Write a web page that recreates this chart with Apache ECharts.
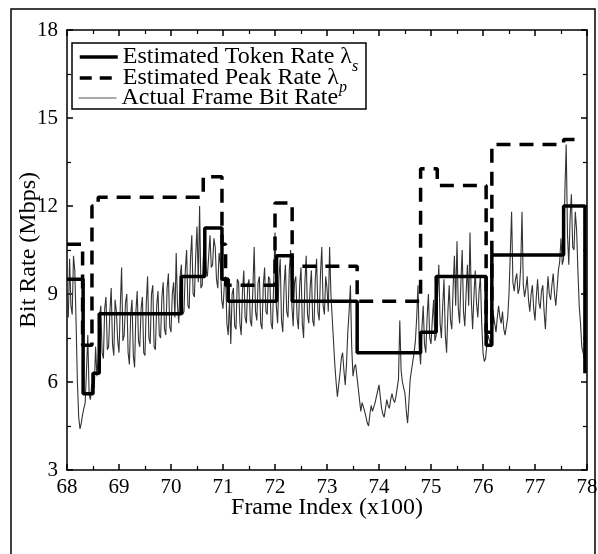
<!DOCTYPE html>
<html>
<head>
<meta charset="utf-8">
<script src="https://cdn.jsdelivr.net/npm/echarts@6/dist/echarts.min.js"></script>
<style>
  html, body { margin: 0; padding: 0; background: #fff; }
  #chart { width: 598px; height: 554px; }
</style>
</head>
<body>
<div id="chart"></div>
<script>
// frame index in units of 100 frames, one sample every 2.5 frames
var frameStart = 68
var frameStep = 0.025

// actual frame bit rate (Mbps); one row per half unit
var actualRate = [
  9.0, 8.2, 10.2, 8.6, 8.3, 10.3, 9.8, 8.0, 6.0, 4.8, 4.4, 4.6, 4.9, 5.1, 5.3, 6.4, 7.6, 5.6, 5.4, 5.9,
  6.0, 5.8, 7.2, 6.2, 6.8, 8.2, 8.6, 7.0, 6.8, 8.5, 8.9, 7.1, 7.2, 8.4, 9.2, 7.3, 6.9, 8.8, 8.4, 7.4,
  7.0, 8.6, 9.9, 7.4, 7.6, 8.7, 9.0, 7.0, 6.6, 8.3, 8.8, 6.9, 6.5, 8.4, 9.1, 7.4, 7.2, 8.5, 8.9, 7.0,
  6.9, 8.7, 9.6, 7.5, 7.3, 9.0, 9.3, 7.2, 7.1, 8.6, 9.1, 7.6, 7.5, 8.9, 9.4, 7.8, 7.6, 9.2, 9.7, 7.9,
  7.7, 9.0, 9.4, 8.2, 10.4, 8.6, 8.0, 9.6, 10.0, 8.3, 8.4, 9.8, 10.5, 8.6, 8.5, 10.2, 11.0, 9.0, 8.9, 10.3,
  11.3, 9.4, 12.0, 9.2, 9.3, 10.4, 10.8, 9.8, 9.6, 10.3, 11.0, 9.9, 10.0, 10.9, 10.6, 9.5, 9.2, 10.4, 10.0, 8.8,
  8.5, 9.3, 9.6, 8.0, 7.6, 8.8, 7.3, 9.0, 9.2, 7.9, 7.8, 9.5, 9.4, 8.0, 7.6, 9.1, 9.8, 8.2, 8.0, 9.3,
  9.5, 8.1, 7.9, 9.2, 10.6, 8.4, 8.1, 9.4, 9.6, 8.0, 7.8, 9.3, 9.9, 8.4, 8.3, 9.6, 9.5, 8.0, 7.8, 9.4,
  11.1, 8.6, 8.0, 9.5, 10.2, 8.1, 7.7, 9.3, 10.0, 8.4, 8.2, 9.8, 10.5, 8.6, 7.9, 9.4, 9.6, 8.2, 7.8, 9.3,
  9.9, 8.0, 7.5, 9.4, 10.3, 8.3, 8.0, 9.2, 9.8, 8.1, 7.9, 9.5, 10.2, 8.4, 8.1, 9.7, 10.6, 8.6, 8.3, 9.6,
  9.2, 8.4, 10.6, 9.0, 8.2, 7.4, 6.6, 6.0, 5.5, 5.9, 6.3, 6.8, 7.0, 6.4, 5.9, 6.6, 7.7, 8.4, 9.3, 7.2,
  6.2, 6.5, 6.6, 6.2, 5.8, 5.4, 5.0, 5.3, 5.3, 5.0, 4.8, 4.6, 4.5, 4.9, 5.2, 5.0, 5.0, 5.3, 5.5, 5.7,
  5.9, 5.5, 5.1, 4.9, 4.8, 5.1, 5.4, 5.2, 5.1, 5.4, 5.6, 5.4, 5.3, 5.5, 5.8, 6.1, 8.1, 6.4, 6.0, 5.8,
  5.6, 5.0, 4.6, 5.3, 6.1, 6.4, 6.7, 7.0, 7.4, 8.2, 9.3, 7.2, 6.6, 7.8, 8.6, 7.3, 7.0, 8.2, 9.0, 7.5,
  7.3, 8.1, 8.8, 7.4, 7.6, 8.9, 10.0, 8.0, 7.5, 8.6, 9.5, 7.6, 7.0, 8.4, 9.3, 8.1, 7.8, 9.2, 10.3, 8.6,
  10.8, 8.5, 8.0, 9.4, 10.5, 8.4, 7.9, 9.0, 10.0, 8.6, 11.1, 8.8, 7.8, 8.9, 9.8, 8.7, 8.2, 9.1, 9.6, 8.0,
  7.0, 6.7, 6.8, 7.3, 7.6, 7.4, 7.2, 7.8, 8.3, 8.0, 7.7, 8.2, 8.6, 8.2, 8.0, 8.4, 7.8, 7.6, 7.6, 8.2,
  9.0, 10.4, 11.8, 9.4, 9.1, 9.5, 9.7, 9.0, 9.2, 9.9, 11.8, 9.3, 8.9, 9.2, 9.6, 8.8, 8.4, 9.0, 9.3, 8.5,
  8.1, 8.9, 9.5, 8.7, 8.5, 9.1, 9.3, 8.4, 7.8, 8.8, 9.6, 9.0, 8.8, 9.3, 9.7, 9.0, 8.6, 9.2, 9.8, 10.1,
  10.9, 10.0, 10.2, 12.5, 14.1, 11.0, 10.0, 11.6, 12.4, 10.6, 10.5, 11.8, 11.2, 9.8, 8.6, 8.0, 7.2, 7.0, 6.8, 6.5,
  6.3
]

// step changes [frame index, rate]; each rate holds until the next change
var tokenSteps = [
  [68.0, 9.5], [68.31, 5.6], [68.5, 6.3], [68.62, 8.33], [70.2, 9.6],
  [70.65, 11.25], [70.98, 9.5], [71.1, 8.75], [72.03, 10.3], [72.33, 8.75],
  [73.58, 7.0], [74.8, 7.7], [75.1, 9.6], [76.06, 7.25], [76.17, 10.33],
  [77.55, 12.0], [77.96, 6.3]
]
var peakSteps = [
  [68.0, 10.7], [68.3, 7.25], [68.48, 12.0], [68.6, 12.3], [70.62, 13.0],
  [70.98, 10.7], [71.05, 9.3], [72.0, 12.1], [72.33, 9.95], [73.58, 8.75],
  [74.8, 13.27], [75.12, 12.7], [76.06, 7.7], [76.17, 14.1], [77.55, 14.27],
  [77.93, 14.27]
]

var actualData = actualRate.map(function (v, i) {
  return [frameStart + i * frameStep, v]
})

var serif = 'Liberation Serif'
var chart = echarts.init(document.getElementById('chart'))

var axisBase = {
  axisLine: { show: true, lineStyle: { color: '#000', width: 1.5 } },
  axisTick: { show: true, inside: true, length: 6, lineStyle: { color: '#000', width: 1.5 } },
  minorTick: { show: true, splitNumber: 2, length: 4, lineStyle: { color: '#000', width: 1.2 } },
  splitLine: { show: false }
}

// one legend per row so the rows sit as tight as in the picture
function legendRow(top, item) {
  return {
    left: 78,
    top: top,
    padding: 0,
    itemWidth: 38,
    itemHeight: 14,
    itemStyle: { opacity: 0 },
    textStyle: {
      fontFamily: serif,
      fontSize: 24,
      color: '#000',
      rich: {
        sub: { fontFamily: serif, fontSize: 16, fontStyle: 'italic', color: '#000', verticalAlign: 'top', lineHeight: 8, padding: [14, 0, 0, 0] }
      }
    },
    formatter: function (name) {
      if (name === 'Estimated Token Rate') return name + ' λ{sub|s}'
      if (name === 'Estimated Peak Rate') return name + ' λ{sub|p}'
      return name
    },
    data: [item]
  }
}

chart.setOption({
  backgroundColor: '#fff',
  animation: false,
  grid: { left: 67, right: 11, top: 30, bottom: 84, outerBoundsMode: 'none' },
  graphic: [{
    type: 'rect',
    shape: { x: 11, y: 9, width: 584, height: 560 },
    style: { fill: 'none', stroke: '#000', lineWidth: 1.5 },
    silent: true
  }, {
    type: 'rect',
    shape: { x: 72, y: 43, width: 294, height: 66 },
    style: { fill: 'none', stroke: '#000', lineWidth: 1.5 },
    z: 1,
    silent: true
  }],
  legend: [
    legendRow(45, { name: 'Estimated Token Rate', lineStyle: { color: '#000', width: 3.5 } }),
    legendRow(66, { name: 'Estimated Peak Rate', lineStyle: { color: '#000', width: 3.5, type: [12, 8] } }),
    legendRow(86, { name: 'Actual Frame Bit Rate', lineStyle: { color: '#555', width: 1 } })
  ],
  xAxis: [
    Object.assign({}, axisBase, {
      type: 'value',
      min: 68,
      max: 78,
      interval: 1,
      name: 'Frame Index (x100)',
      nameLocation: 'middle',
      nameGap: 26,
      nameMoveOverlap: false,
      nameTextStyle: { fontFamily: serif, fontSize: 24, color: '#000' },
      axisLabel: { fontFamily: serif, fontSize: 21, color: '#000', margin: 7 }
    }),
    Object.assign({}, axisBase, {
      type: 'value',
      position: 'top',
      min: 68,
      max: 78,
      interval: 1,
      axisLabel: { show: false }
    })
  ],
  yAxis: [
    Object.assign({}, axisBase, {
      type: 'value',
      min: 3,
      max: 18,
      interval: 3,
      name: 'Bit Rate (Mbps)',
      nameLocation: 'middle',
      nameGap: 26,
      nameMoveOverlap: false,
      nameTextStyle: { fontFamily: serif, fontSize: 24, color: '#000' },
      axisLabel: { fontFamily: serif, fontSize: 21, color: '#000', margin: 9 }
    }),
    Object.assign({}, axisBase, {
      type: 'value',
      position: 'right',
      min: 3,
      max: 18,
      interval: 3,
      axisLabel: { show: false }
    })
  ],
  series: [
    {
      name: 'Actual Frame Bit Rate',
      type: 'line',
      data: actualData,
      showSymbol: false,
      symbol: 'none',
      lineStyle: { color: '#333', width: 1.1 },
      itemStyle: { color: '#333' },
      z: 2
    },
    {
      name: 'Estimated Token Rate',
      type: 'line',
      step: 'end',
      data: tokenSteps,
      symbol: 'none',
      lineStyle: { color: '#000', width: 3.5 },
      itemStyle: { color: '#000' },
      z: 3
    },
    {
      name: 'Estimated Peak Rate',
      type: 'line',
      step: 'end',
      data: peakSteps,
      symbol: 'none',
      lineStyle: { color: '#000', width: 3.5, type: [14, 9] },
      itemStyle: { color: '#000' },
      z: 4
    }
  ]
})
</script>
</body>
</html>
